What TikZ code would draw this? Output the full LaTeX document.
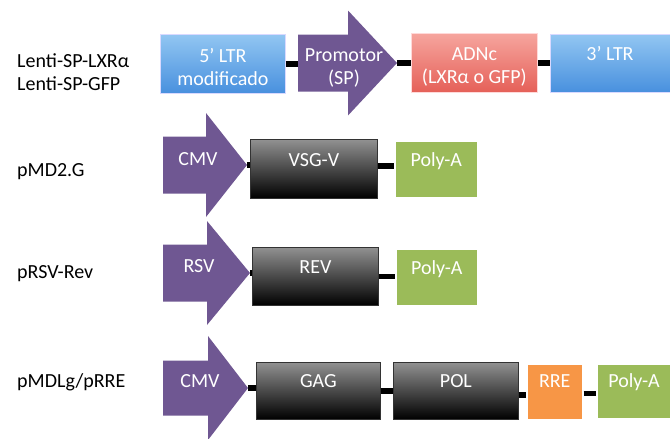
\documentclass[tikz,border=0pt]{standalone}
\usepackage{fontspec}
\setmainfont{Carlito}
\usetikzlibrary{calc,shadows}
\definecolor{purp}{RGB}{111,87,146}
\definecolor{bluetop}{RGB}{146,198,242}
\definecolor{bluebot}{RGB}{72,144,222}
\definecolor{redtop}{RGB}{246,165,158}
\definecolor{redbot}{RGB}{229,96,88}
\definecolor{darktop}{RGB}{145,145,145}
\definecolor{greenbox}{RGB}{155,187,89}
\definecolor{orangebox}{RGB}{247,150,70}
\newcommand\genearrow[6]{% x0, xhead, xtip, yc, body half, head half
  \fill[purp] (#1,#4-#5) -- (#2,#4-#5) -- (#2,#4-#6) -- (#3,#4) -- (#2,#4+#6) -- (#2,#4+#5) -- (#1,#4+#5) -- cycle;}
\begin{document}
\begin{tikzpicture}[x=1pt,y=-1pt,
  txt/.style={font=\fontsize{20}{23}\selectfont},
  box/.style={inner sep=0pt, anchor=north west},
  bluebox/.style={box, top color=bluetop, bottom color=bluebot, draw=white!85!blue, line width=0.8pt},
  redbox/.style={box, top color=redtop, bottom color=redbot, draw=white!85!red, line width=0.8pt},
  darkbox/.style={box, top color=darktop, bottom color=black, draw=black!80, line width=0.8pt},
  greenb/.style={box, fill=greenbox, draw=white, line width=1.5pt, drop shadow={opacity=0.18, shadow xshift=1pt, shadow yshift=-1.5pt}},
  orangeb/.style={box, fill=orangebox, draw=white, line width=1.5pt, drop shadow={opacity=0.18, shadow xshift=1pt, shadow yshift=-1.5pt}},
  intxt/.style={txt, text=white, inner sep=0pt, anchor=base},
  intxt2/.style={txt, text=white, inner sep=0pt, anchor=north, align=center},
  lbl/.style={txt, text=black, inner sep=0pt, anchor=base west},
  conn/.style={line width=5.2pt, black}]
\useasboundingbox (0,0) rectangle (670,439);

% ---- left labels
\node[txt, text=black, inner sep=0pt, anchor=north west, align=left] (l1) at (17,53) {Lenti-SP-LXRα\\Lenti-SP-GFP};
\node[lbl] (l2) at (17,176) {pMD2.G};
\node[lbl] (l3) at (17,278) {pRSV-Rev};
\node[lbl] (l4) at (17,387) {pMDLg/pRRE};

% ---- row 1
\node[bluebox, minimum width=125pt, minimum height=59pt] (ltr5) at (160,34) {};
\node[intxt2] (ltr5t) at ($(ltr5.north)+(0,14)$) {5’ LTR\\modificado};
\genearrow{298}{348}{397}{63}{28.5}{52.5}
\coordinate (prom-w) at (298,63);
\coordinate (prom-tip) at (397,63);
\node[intxt2] (promt) at (344,48) {Promotor\\(SP)};
\node[redbox, minimum width=126pt, minimum height=59pt] (adnc) at (411,33) {};
\node[intxt2] (adnct) at ($(adnc.north)+(0,14)$) {ADNc\\(LXRα o GFP)};
\node[bluebox, minimum width=125pt, minimum height=58pt] (ltr3) at (550,34) {};
\node[intxt] (ltr3t) at ($(ltr3.north west)+(60,26)$) {3’ LTR};
\draw[conn] (ltr5.east) -- (ltr5.east -| prom-w);
\draw[conn] (prom-tip) -- (prom-tip -| adnc.west);
\draw[conn] (adnc.east) -- (adnc.east -| ltr3.west);

% ---- row 2
\genearrow{163}{206}{247}{165}{28.5}{52}
\coordinate (cmv1-tip) at (247,165);
\node[intxt] (cmv1t) at (198,165) {CMV};
\node[darkbox, minimum width=127pt, minimum height=59pt] (vsg) at (250,139) {};
\node[intxt] (vsgt) at ($(vsg.north)+(0,27)$) {VSG-V};
\node[greenb, minimum width=83pt, minimum height=57pt] (pa1) at (394,140) {};
\node[intxt] (pa1t) at ($(pa1.north)+(0,26)$) {Poly-A};
\draw[conn] (cmv1-tip) -- (cmv1-tip -| vsg.west);
\draw[conn] ($(vsg.east)+(0,-3)$) -- ($(vsg.east -| pa1.west)+(0,-3)$);

% ---- row 3
\genearrow{163}{207}{250}{273}{28.5}{52}
\coordinate (rsv-tip) at (250,273);
\node[intxt] (rsvt) at (199,272) {RSV};
\node[darkbox, minimum width=126pt, minimum height=58pt] (rev) at (252,247) {};
\node[intxt] (revt) at ($(rev.north)+(0,26)$) {REV};
\node[greenb, minimum width=82pt, minimum height=57pt] (pa2) at (395,248) {};
\node[intxt] (pa2t) at ($(pa2.north)+(0,26)$) {Poly-A};
\draw[conn] (rsv-tip) -- (rsv-tip -| rev.west);
\draw[conn] (rev.east) -- (rev.east -| pa2.west);

% ---- row 4
\genearrow{163}{208}{248}{388}{27.5}{52}
\coordinate (cmv2-tip) at (248,388);
\node[intxt] (cmv2t) at (200,387) {CMV};
\node[darkbox, minimum width=124pt, minimum height=57pt] (gag) at (256,362) {};
\node[intxt] (gagt) at ($(gag.north)+(0,25)$) {GAG};
\node[darkbox, minimum width=125pt, minimum height=57pt] (pol) at (393,362) {};
\node[intxt] (polt) at ($(pol.north)+(0,25)$) {POL};
\node[orangeb, minimum width=56pt, minimum height=56pt] (rre) at (526,363) {};
\node[intxt] (rret) at ($(rre.north)+(0,24)$) {RRE};
\node[greenb, minimum width=78pt, minimum height=55pt] (pa3) at (596,363) {};
\node[intxt] (pa3t) at ($(pa3.north west)+(38,24)$) {Poly-A};
\draw[conn] (cmv2-tip) -- (cmv2-tip -| gag.west);
\draw[conn] (gag.east) -- (gag.east -| pol.west);
\draw[conn] ($(pol.east)+(0,4)$) -- ($(pol.east -| rre.west)+(0,4)$);
\draw[conn] ($(rre.east)+(0,2)$) -- ($(rre.east -| pa3.west)+(0,2)$);
\end{tikzpicture}
\end{document}
